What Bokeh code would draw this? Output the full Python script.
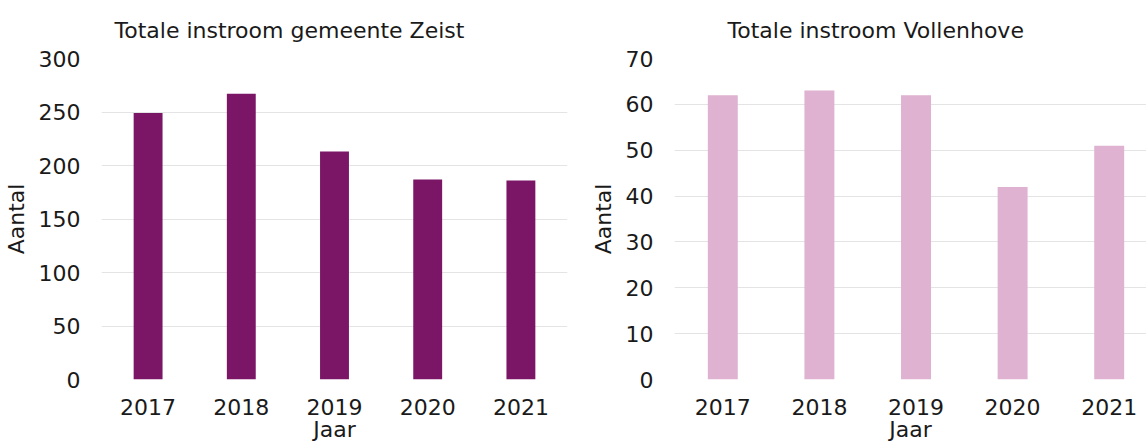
from bokeh.plotting import figure
from bokeh.models import Range1d, FixedTicker, ColumnDataSource
from bokeh.layouts import row
from bokeh.embed import file_html
from bokeh.resources import INLINE

years = ["2017", "2018", "2019", "2020", "2021"]
zeist = [249, 267, 213, 187, 186]
vollenhove = [62, 63, 62, 42, 51]

title_left = "Totale instroom gemeente Zeist"
title_right = "Totale instroom Vollenhove"
y_label = "Aantal"
x_label = "Jaar"

FONT = "DejaVu Sans"
TXT = "#1a1a1a"


def make_panel(title, values, color, y_max, y_step, width, border_left, border_right,
               x_end, title_offset):
    xs = list(range(1, len(years) + 1))
    src = ColumnDataSource(dict(x=xs, y=values, year=years))
    p = figure(width=width, height=447, output_backend="svg",
               toolbar_location=None,
               x_range=Range1d(0.5, x_end), y_range=Range1d(0, y_max),
               min_border_left=border_left, min_border_right=border_right,
               min_border_top=58, min_border_bottom=68)
    p.vbar(x="x", top="y", width=0.31, source=src, color=color, line_color=None)
    p.title.text = title
    p.title.text_font = FONT
    p.title.text_font_size = "22px"
    p.title.text_font_style = "normal"
    p.title.text_color = TXT
    p.title.align = "left"
    p.title.offset = title_offset
    p.title.standoff = 31
    p.outline_line_color = None
    p.background_fill_color = "white"
    p.border_fill_color = "white"

    p.xaxis.ticker = FixedTicker(ticks=xs)
    p.xaxis.major_label_overrides = {x: y for x, y in zip(xs, years)}
    p.yaxis.ticker = FixedTicker(ticks=list(range(0, y_max + 1, y_step)))
    for ax in (p.xaxis, p.yaxis):
        ax.axis_line_color = None
        ax.major_tick_line_color = None
        ax.minor_tick_line_color = None
        ax.major_tick_out = 0
        ax.major_tick_in = 0
        ax.minor_tick_out = 0
        ax.minor_tick_in = 0
        ax.major_label_text_font = FONT
        ax.major_label_text_font_size = "22px"
        ax.major_label_text_color = TXT
        ax.axis_label_text_font = FONT
        ax.axis_label_text_font_size = "22px"
        ax.axis_label_text_font_style = "normal"
        ax.axis_label_text_color = TXT
    p.xaxis.axis_label = x_label
    p.yaxis.axis_label = y_label
    p.yaxis.major_label_standoff = 21
    p.xaxis.major_label_standoff = 19
    p.yaxis.axis_label_standoff = 7
    p.xaxis.axis_label_standoff = -1
    p.xgrid.grid_line_color = None
    p.ygrid.grid_line_color = "#e4e4e4"
    p.ygrid.grid_line_width = 1
    return p


left = make_panel(title_left, zeist, "#7b1566", 300, 50, 582, 99, 15, 5.5, 13)
right = make_panel(title_right, vollenhove, "#deb2d0", 70, 10, 564, 92, 0, 5.386, 53)

layout = row(left, right)
open("out.html", "w").write(file_html(layout, INLINE))
